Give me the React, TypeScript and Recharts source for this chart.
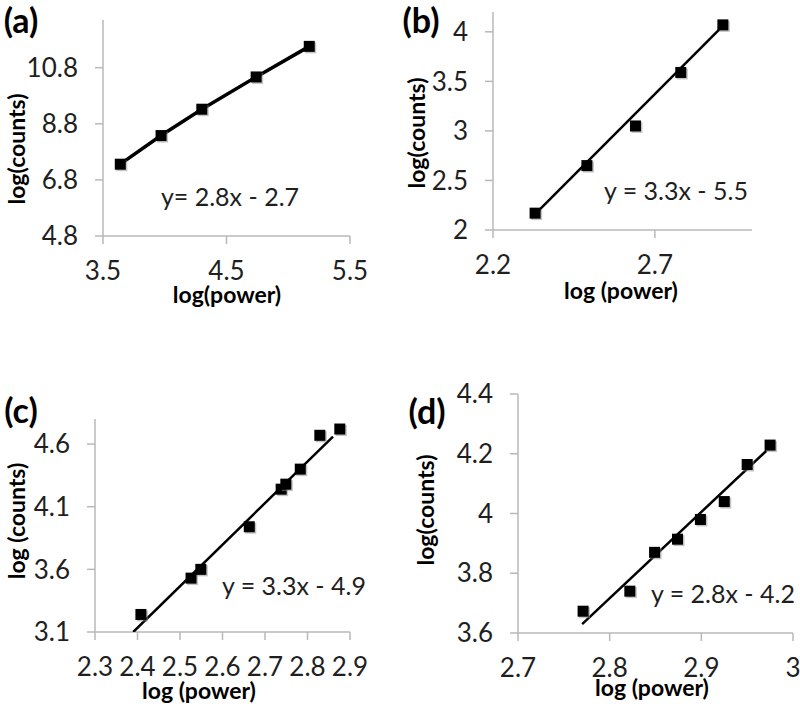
import React from "react";
import { ScatterChart, Scatter, XAxis, YAxis } from "recharts";

// panel (a)
const aPowerX = [3.64, 3.97, 4.3, 4.74, 5.17];
const aCountsY = [7.36, 8.38, 9.32, 10.47, 11.56];
const aXTicks = [3.5, 4.5, 5.5];
const aYTicks = [4.8, 6.8, 8.8, 10.8];

// panel (b)
const bPowerX = [2.33, 2.49, 2.64, 2.78, 2.91];
const bCountsY = [2.17, 2.65, 3.05, 3.59, 4.07];
const bTrendX = [2.33, 2.91];
const bTrendY = [2.16, 4.06];
const bXTicks = [2.2, 2.7];
const bYTicks = [2, 2.5, 3, 3.5, 4];

// panel (c)
const cPowerX = [2.408, 2.526, 2.549, 2.663, 2.738, 2.749, 2.783, 2.829, 2.876];
const cCountsY = [3.24, 3.53, 3.6, 3.94, 4.24, 4.28, 4.4, 4.67, 4.72];
const cTrendX = [2.39, 2.86];
const cTrendY = [3.1, 4.66];
const cXTicks = [2.3, 2.4, 2.5, 2.6, 2.7, 2.8, 2.9];
const cYTicks = [3.1, 3.6, 4.1, 4.6];

// panel (d)
const dPowerX = [2.771, 2.822, 2.849, 2.874, 2.899, 2.925, 2.95, 2.975];
const dCountsY = [3.673, 3.74, 3.87, 3.914, 3.98, 4.04, 4.164, 4.229];
const dTrendX = [2.77, 2.971];
const dTrendY = [3.63, 4.21];
const dXTicks = [2.7, 2.8, 2.9, 3];
const dYTicks = [3.6, 3.8, 4, 4.2, 4.4];

const zip = (xs: number[], ys: number[]) => xs.map((x, i) => ({ x, y: ys[i] }));

const FONT = "Lato, 'Open Sans', sans-serif";
const AXIS = "#b8b8b8";

const Square = (props: any) => {
  const { cx, cy } = props;
  if (cx == null || cy == null) return <g />;
  return (
    <g>
      <rect x={cx - 4} y={cy - 4} width={11} height={11} fill="#8a8a8a" opacity={0.5} />
      <rect x={cx - 5.5} y={cy - 5.5} width={11} height={11} fill="#000" />
    </g>
  );
};

const Nothing = () => <g />;

type Box = { L: number; R: number; T: number; B: number };

const yW = 80;
const xH = 60;
const padT = 20;
const padR = 30;

const Panel = ({
  box,
  xDomain,
  yDomain,
  xTicks,
  yTicks,
  points,
  trend,
  lineWidth,
}: {
  box: Box;
  xDomain: number[];
  yDomain: number[];
  xTicks: number[];
  yTicks: number[];
  points: { x: number; y: number }[];
  trend?: { x: number; y: number }[];
  lineWidth: number;
}) => {
  const tickStyle = { fontSize: 26, fill: "#1f1f1f", fontFamily: FONT };
  return (
    <div style={{ position: "absolute", left: box.L - yW, top: box.T - padT }}>
      <ScatterChart
        width={box.R - box.L + yW + padR}
        height={box.B - box.T + padT + xH}
        margin={{ top: padT, right: padR, bottom: 0, left: 0 }}
      >
        <XAxis
          type="number"
          dataKey="x"
          domain={xDomain}
          ticks={xTicks}
          interval={0}
          allowDataOverflow
          height={xH}
          tick={tickStyle}
          tickSize={8}
          tickMargin={18}
          axisLine={{ stroke: AXIS, strokeWidth: 1.5 }}
          tickLine={{ stroke: AXIS, strokeWidth: 1.5 }}
        />
        <YAxis
          type="number"
          dataKey="y"
          domain={yDomain}
          ticks={yTicks}
          interval={0}
          allowDataOverflow
          width={yW}
          tick={tickStyle}
          tickSize={8}
          tickMargin={17}
          axisLine={{ stroke: AXIS, strokeWidth: 1.5 }}
          tickLine={{ stroke: AXIS, strokeWidth: 1.5 }}
        />
        {trend ? (
          <Scatter
            data={trend}
            line={{ stroke: "#000", strokeWidth: lineWidth }}
            lineType="joint"
            shape={Nothing}
            isAnimationActive={false}
          />
        ) : null}
        <Scatter
          data={points}
          line={trend ? false : { stroke: "#000", strokeWidth: lineWidth }}
          lineType="joint"
          shape={Square}
          isAnimationActive={false}
        />
      </ScatterChart>
    </div>
  );
};

const Txt = ({
  x,
  y,
  size,
  bold,
  rotate,
  children,
}: {
  x: number;
  y: number;
  size: number;
  bold?: boolean;
  rotate?: boolean;
  children: React.ReactNode;
}) => (
  <div
    style={{
      position: "absolute",
      left: x,
      top: y,
      transform: `translate(-50%, -50%)${rotate ? " rotate(-90deg)" : ""}`,
      whiteSpace: "nowrap",
      fontFamily: FONT,
      fontSize: size,
      fontWeight: bold ? 700 : 400,
      color: bold ? "#000" : "#1f1f1f",
      lineHeight: 0.9,
    }}
  >
    {children}
  </div>
);

const App = () => {
  return (
    <div
      style={{
        position: "absolute",
        left: 0,
        top: 0,
        width: 800,
        height: 718,
        background: "#fff",
        overflow: "hidden",
      }}
    >
      <Panel
        box={{ L: 103, R: 350, T: 20, B: 236 }}
        xDomain={[3.5, 5.5]}
        yDomain={[4.8, 12.5]}
        xTicks={aXTicks}
        yTicks={aYTicks}
        points={zip(aPowerX, aCountsY)}
        lineWidth={3.5}
      />
      <Panel
        box={{ L: 493, R: 752, T: 12, B: 230 }}
        xDomain={[2.2, 3.0]}
        yDomain={[2, 4.2]}
        xTicks={bXTicks}
        yTicks={bYTicks}
        points={zip(bPowerX, bCountsY)}
        trend={zip(bTrendX, bTrendY)}
        lineWidth={2.5}
      />
      <Panel
        box={{ L: 95, R: 350, T: 419, B: 632 }}
        xDomain={[2.3, 2.9]}
        yDomain={[3.1, 4.8]}
        xTicks={cXTicks}
        yTicks={cYTicks}
        points={zip(cPowerX, cCountsY)}
        trend={zip(cTrendX, cTrendY)}
        lineWidth={2.5}
      />
      <Panel
        box={{ L: 518, R: 793, T: 394, B: 633 }}
        xDomain={[2.7, 3.0]}
        yDomain={[3.6, 4.4]}
        xTicks={dXTicks}
        yTicks={dYTicks}
        points={zip(dPowerX, dCountsY)}
        trend={zip(dTrendX, dTrendY)}
        lineWidth={2.5}
      />

      <Txt x={21} y={20} size={34} bold>(a)</Txt>
      <Txt x={421} y={20} size={34} bold>(b)</Txt>
      <Txt x={21} y={410} size={34} bold>(c)</Txt>
      <Txt x={427} y={411} size={34} bold>(d)</Txt>

      <Txt x={15.5} y={149} size={23} bold rotate>log(counts)</Txt>
      <Txt x={415.5} y={133} size={23} bold rotate>log(counts)</Txt>
      <Txt x={15.5} y={521} size={23} bold rotate>log (counts)</Txt>
      <Txt x={425} y={510} size={23} bold rotate>log(counts)</Txt>

      <Txt x={227} y={294} size={23} bold>log(power)</Txt>
      <Txt x={621} y={290} size={23} bold>log (power)</Txt>
      <Txt x={199} y={690} size={23} bold>log (power)</Txt>
      <Txt x={652} y={687} size={23} bold>log (power)</Txt>

      <Txt x={230} y={196} size={25}>y= 2.8x - 2.7</Txt>
      <Txt x={676} y={190} size={25}>y = 3.3x - 5.5</Txt>
      <Txt x={294} y={585} size={25}>y = 3.3x - 4.9</Txt>
      <Txt x={723} y={593} size={25}>y = 2.8x - 4.2</Txt>
    </div>
  );
};

export default App;
